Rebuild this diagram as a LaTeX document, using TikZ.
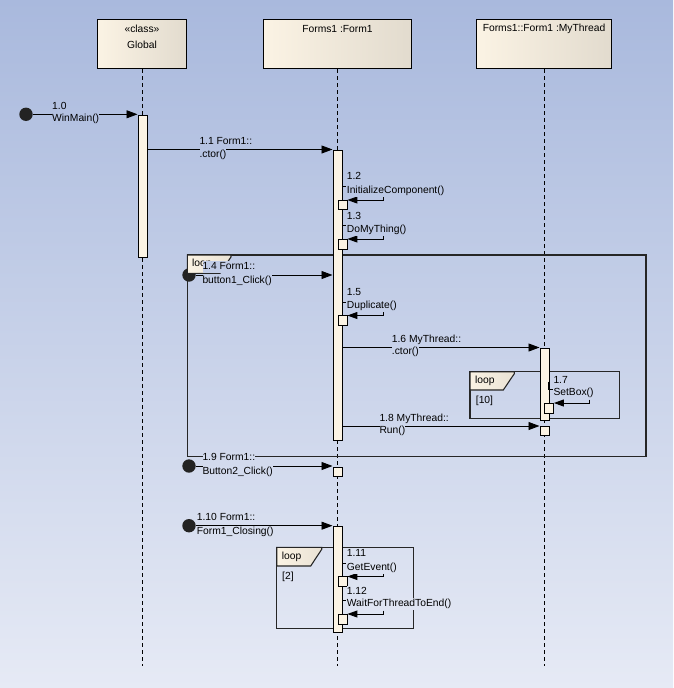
\documentclass[tikz,border=0pt]{standalone}
\usepackage{fontspec}
\setmainfont{Liberation Sans}
\usetikzlibrary{arrows.meta,calc}
\definecolor{bgTop}{RGB}{169,185,221}
\definecolor{bgBot}{RGB}{230,234,245}
\definecolor{hdrA}{RGB}{251,243,228}
\definecolor{hdrB}{RGB}{226,219,206}
\definecolor{actFill}{RGB}{251,243,228}
\definecolor{dot}{RGB}{35,35,35}
\tikzset{
  hdr/.style={draw=black, line width=1pt, left color=hdrA, middle color=hdrA, right color=hdrB, anchor=north west, inner sep=0pt},
  txt/.style={inner sep=0pt},
  life/.style={line width=0.9pt, dash pattern=on 4pt off 3pt},
  act/.style={draw=black, line width=0.9pt, fill=actFill, anchor=north west, inner sep=0pt},
  startdot/.style={circle, fill=dot, draw=none, minimum size=13.4pt, inner sep=0pt},
  msg/.style={line width=0.9pt, -{Triangle[length=11pt,width=8pt]}},
  rmsg/.style={line width=0.9pt, -{Triangle[length=10pt,width=7pt]}},
  stub/.style={line width=0.9pt},
  frm/.style={draw=black!85, line width=1.2pt},
  tab/.style={draw=black!85, line width=1.1pt, left color=hdrA, right color=hdrB!70!hdrA},
  lab/.style={anchor=west, inner xsep=0pt, inner ysep=1.2pt, text height=7.4pt, text depth=2.2pt, fill=bgBot!#1!bgTop},
  ftxt/.style={anchor=west, inner sep=0pt}
}
\begin{document}
\begin{tikzpicture}[x=1pt, y=-1pt, font=\fontsize{10.3}{12}\selectfont]
\shade[top color=bgTop, bottom color=bgBot] (0,0) rectangle (673,688);
\useasboundingbox (0,0) rectangle (673,688);

% headers
\node[hdr, minimum width=89pt, minimum height=49pt] (hG) at (97,19) {};
\node[hdr, minimum width=148pt, minimum height=49pt] (hF) at (263,19) {};
\node[hdr, minimum width=135pt, minimum height=49pt] (hT) at (476,19) {};
\node[txt] (hGs) at (142,29) {«class»};
\node[txt] (hGn) at (142,44.5) {Global};
\node[txt] (hFn) at (337.5,29) {Forms1 :Form1};
\node[txt] (hTn) at (544,29) {Forms1::Form1 :MyThread};

% lifelines
\coordinate (eG) at (hG.south |- 0,666);
\coordinate (eF) at (hF.south |- 0,666);
\coordinate (eT) at (hT.south |- 0,666);
\draw[life] (hG.south) -- (eG);
\draw[life] (hF.south) -- (eF);
\draw[life] (hT.south) -- (eT);

% start dots
\node[startdot] (s10) at (26,114.3) {};
\node[startdot] (s14) at (189,275) {};
\node[startdot] (s19) at (189,466) {};
\node[startdot] (s110) at (189,525.7) {};

% frames
\draw[frm] (187.3,255) rectangle (646,456.7);
\draw[tab] (187.3,255) -- (231,255) -- (231,257) -- (220,273.3) -- (187.3,273.3) -- cycle;
\node[ftxt] (lp1) at (192,264) {loop};

\draw[frm] (470,371.7) rectangle (619.3,418.3);
\draw[tab] (470,371.7) -- (514.3,371.7) -- (514.3,373.7) -- (503.3,390) -- (470,390) -- cycle;
\node[ftxt] (lp2) at (475,381) {loop};
\node[ftxt] (lp2g) at (475.7,401) {[10]};

\draw[frm] (276.7,547.3) rectangle (413.3,628.3);
\draw[tab] (276.7,547.3) -- (321.7,547.3) -- (321.7,549.3) -- (310.7,566) -- (276.7,566) -- cycle;
\node[ftxt] (lp3) at (281.7,556.7) {loop};
\node[ftxt] (lp3g) at (282,577.3) {[2]};

% activations
\node[act, minimum width=9pt, minimum height=142pt] (aG) at (137.5,114.5) {};
\node[act, minimum width=9.5pt, minimum height=290.5pt] (aF1) at (332.5,149.5) {};
\node[act, minimum width=9pt, minimum height=9.5pt] (n12) at (337.5,199.5) {};
\node[act, minimum width=9pt, minimum height=10pt] (n13) at (337.5,238.5) {};
\node[act, minimum width=9pt, minimum height=9.5pt] (n15) at (337.5,315) {};
\node[act, minimum width=9pt, minimum height=72.5pt] (aT1) at (539.5,347.5) {};
\node[act, minimum width=9pt, minimum height=10pt] (n17) at (544,402.5) {};
\node[act, minimum width=9pt, minimum height=9pt] (aT2) at (539.5,426) {};
\node[act, minimum width=9.5pt, minimum height=9.5pt] (aF2) at (332.5,466.5) {};
\node[act, minimum width=9.5pt, minimum height=105.5pt] (aF3) at (332.5,526) {};
\node[act, minimum width=9pt, minimum height=10pt] (n111) at (337.5,576) {};
\node[act, minimum width=9pt, minimum height=10pt] (n112) at (337.5,613.5) {};

% messages
\draw[msg] (s10) -- (s10 -| aG.west);
\draw[msg] (aF1.north west -| aG.east) -- (aF1.north west);
\draw[msg] (s14) -- (s14 -| aF1.west);
\draw[msg] (aT1.north west -| aF1.east) -- (aT1.north west);
\draw[msg] (aT2.north west -| aF1.east) -- (aT2.north west);
\draw[msg] (s19) -- (s19 -| aF2.west);
\draw[msg] (s110) -- (s110 -| aF3.west);

% self messages
\foreach \n in {n12,n13,n15,n17,n111,n112}{
  \draw[stub] ($(\n.north east)+(-5,-21)$) -- ++(0,8) -- ++(4,0);
  \draw[rmsg] ($(\n.north east)+(36,-3)$) -- ++(0,3.5) -- ($(\n.north east)+(0,0.5)$);
}

% labels
\node[lab=16] (l10a) at (52,106.7) {1.0};
\node[lab=17] (l10b) at (52,119.3) {WinMain()};
\node[lab=21] (l11a) at (199.3,142) {1.1 Form1::};
\node[lab=23] (l11b) at (199.3,155) {.ctor()};
\node[lab=26] (l12a) at (346.7,177.3) {1.2};
\node[lab=28] (l12b) at (346.7,190.7) {InitializeComponent()};
\node[lab=31] (l13a) at (346.7,216.7) {1.3};
\node[lab=33] (l13b) at (346.7,230) {DoMyThing()};
\node[lab=39] (l14a) at (202.3,267.3) {1.4 Form1::};
\node[lab=41] (l14b) at (202.3,280.7) {button1\_Click()};
\node[lab=43] (l15a) at (346.7,292.7) {1.5};
\node[lab=44] (l15b) at (346.7,306) {Duplicate()};
\node[lab=49] (l16a) at (391.7,340) {1.6 MyThread::};
\node[lab=51] (l16b) at (391.7,352.3) {.ctor()};
\node[lab=55] (l17a) at (553.3,380.7) {1.7};
\node[lab=57] (l17b) at (553.3,393.3) {SetBox()};
\node[lab=61] (l18a) at (379.3,419) {1.8 MyThread::};
\node[lab=63] (l18b) at (379.3,431) {Run()};
\node[lab=67] (l19a) at (202.3,458.3) {1.9 Form1::};
\node[lab=69] (l19b) at (202.3,471.7) {Button2\_Click()};
\node[lab=75] (l110a) at (196.7,518.3) {1.10 Form1::};
\node[lab=77] (l110b) at (196.7,531.7) {Form1\_Closing()};
\node[lab=81] (l111a) at (346.7,554.3) {1.11};
\node[lab=83] (l111b) at (346.7,567.7) {GetEvent()};
\node[lab=86] (l112a) at (346.7,591.7) {1.12};
\node[lab=88] (l112b) at (346.7,604.3) {WaitForThreadToEnd()};
\end{tikzpicture}
\end{document}
